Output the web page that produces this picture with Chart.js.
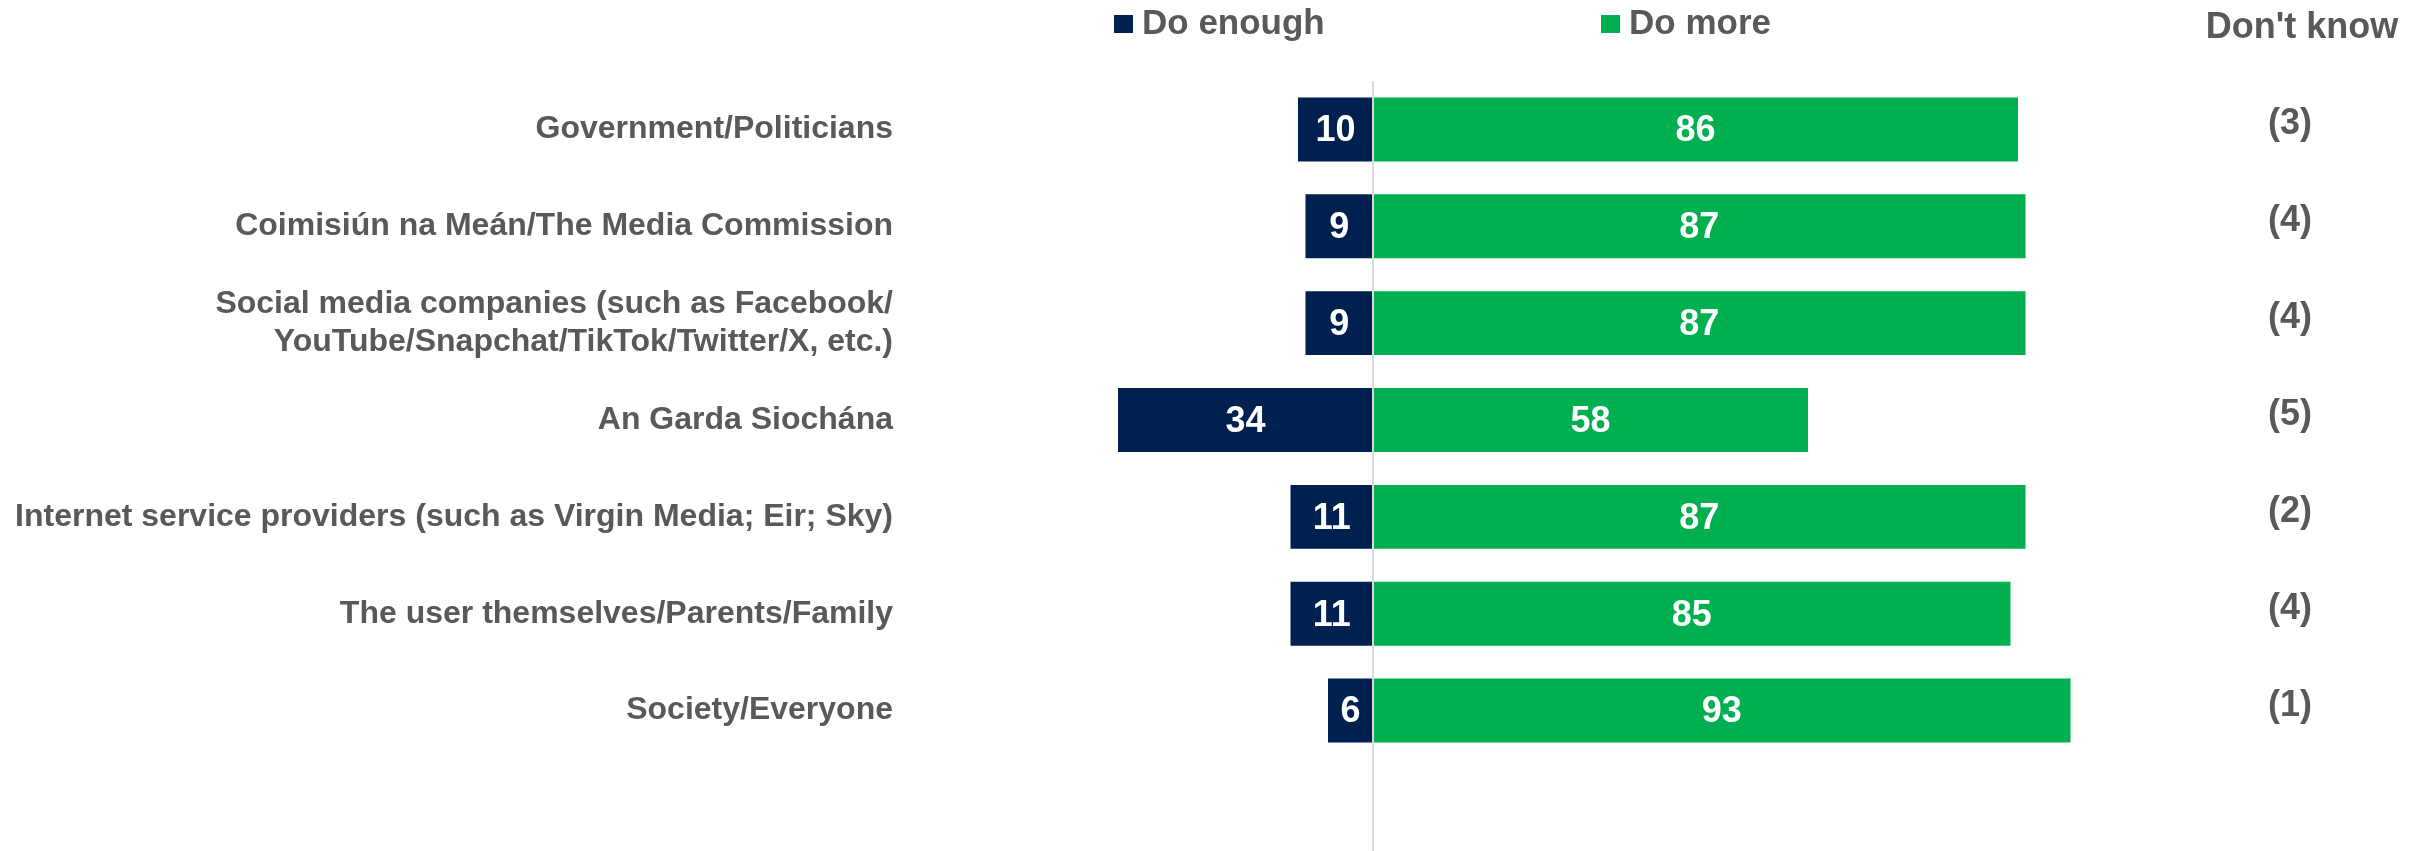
<!DOCTYPE html>
<html>
<head>
<meta charset="utf-8">
<title>Do enough / Do more</title>
<script src="https://cdn.jsdelivr.net/npm/chart.js@4/dist/chart.umd.min.js"></script>
<style>
  html, body { margin: 0; padding: 0; background: #fff; }
  #wrap { width: 2428px; height: 851px; }
</style>
</head>
<body>
<div id="wrap"><canvas id="grafico" width="2428" height="851"></canvas></div>
<script>
// Categories (top to bottom)
const categorias = [
  'Government/Politicians',
  'Coimisiún na Meán/The Media Commission',
  ['Social media companies (such as Facebook/', 'YouTube/Snapchat/TikTok/Twitter/X, etc.)'],
  'An Garda Siochána',
  'Internet service providers (such as Virgin Media; Eir; Sky)',
  'The user themselves/Parents/Family',
  'Society/Everyone'
];

// Series values (%)
const doEnough = [10, 9, 9, 34, 11, 11, 6];
const doMore = [86, 87, 87, 58, 87, 85, 93];
const dontKnow = [3, 4, 4, 5, 2, 4, 1];

const nomesSeries = ['Do enough', 'Do more', "Don't know"];

const corEnough = '#002050';
const corMore = '#00B050';
const cinza = '#595959';
const fonte = '"Liberation Sans", Arial, sans-serif';

Chart.defaults.font.family = fonte;

// values inside the bars
const rotulosBarras = {
  id: 'rotulosBarras',
  afterDatasetsDraw(chart) {
    const ctx = chart.ctx;
    const x = chart.scales.x;

    // zero line, runs down to the bottom of the picture
    const x0 = x.getPixelForValue(0);
    ctx.save();
    ctx.strokeStyle = '#d9d9d9';
    ctx.lineWidth = 2;
    ctx.beginPath();
    ctx.moveTo(x0, chart.chartArea.top);
    ctx.lineTo(x0, chart.height);
    ctx.stroke();

    ctx.fillStyle = '#fff';
    ctx.font = 'bold 36px ' + fonte;
    ctx.textAlign = 'center';
    ctx.textBaseline = 'middle';
    const fontes = [doEnough, doMore];
    chart.data.datasets.forEach((ds, d) => {
      chart.getDatasetMeta(d).data.forEach((bar, i) => {
        const cx = (bar.x + bar.base) / 2;
        ctx.fillText(String(fontes[d][i]), cx, bar.y + 2);
      });
    });
    ctx.restore();
  }
};

// legend + "Don't know" column
const legendaColuna = {
  id: 'legendaColuna',
  afterDraw(chart) {
    const ctx = chart.ctx;
    const y = chart.scales.y;
    ctx.save();
    ctx.textBaseline = 'alphabetic';

    // legend squares and names
    ctx.font = 'bold 35px ' + fonte;
    ctx.textAlign = 'left';
    ctx.fillStyle = corEnough;
    ctx.fillRect(1114, 15, 19, 18);
    ctx.fillStyle = cinza;
    ctx.fillText(nomesSeries[0], 1142, 34);
    ctx.fillStyle = corMore;
    ctx.fillRect(1601, 15, 19, 18);
    ctx.fillStyle = cinza;
    ctx.fillText(nomesSeries[1], 1629, 34);

    // column header
    ctx.font = 'bold 36px ' + fonte;
    ctx.textAlign = 'center';
    ctx.fillText(nomesSeries[2], 2302, 38);

    dontKnow.forEach((v, i) => {
      ctx.fillText('(' + v + ')', 2290, y.getPixelForValue(i) + 5);
    });
    ctx.restore();
  }
};

new Chart(document.getElementById('grafico'), {
  type: 'bar',
  data: {
    labels: categorias,
    datasets: [
      {
        label: nomesSeries[0],
        data: doEnough.map(v => -v),
        backgroundColor: corEnough,
        barPercentage: 0.66,
        categoryPercentage: 1
      },
      {
        label: nomesSeries[1],
        data: doMore,
        backgroundColor: corMore,
        barPercentage: 0.66,
        categoryPercentage: 1
      }
    ]
  },
  options: {
    indexAxis: 'y',
    responsive: false,
    devicePixelRatio: 1,
    animation: false,
    layout: {
      padding: { top: 81, bottom: 92, left: 0, right: 230 }
    },
    plugins: {
      legend: { display: false },
      tooltip: { enabled: false }
    },
    scales: {
      x: {
        stacked: true,
        min: -60,
        max: 110,
        display: false
      },
      y: {
        stacked: true,
        grid: { display: false, drawTicks: false },
        border: { display: false },
        afterFit(scale) { scale.width = 923; },
        ticks: {
          color: cinza,
          padding: 30,
          font: { size: 32, weight: 'bold', lineHeight: 1.2 }
        }
      }
    }
  },
  plugins: [rotulosBarras, legendaColuna]
});
</script>
</body>
</html>
